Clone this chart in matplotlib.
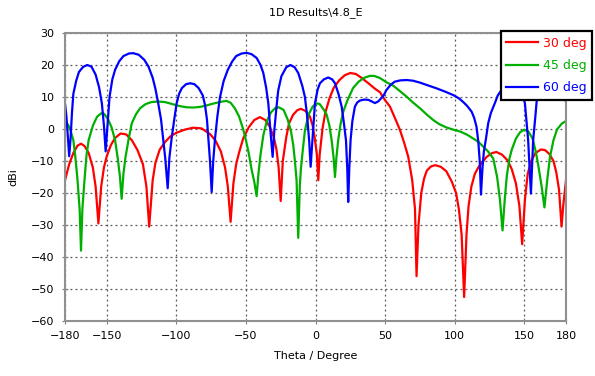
import matplotlib
matplotlib.use("Agg")
import matplotlib.pyplot as plt

# angles (deg) and gain (dBi), one list pair per curve
theta_30 = [-180, -177, -174, -171, -168.5, -166, -163, -160, -158, -156, -154, -152, -150, -147, -144,
            -140, -136, -132, -128, -124, -121.5, -119.5, -117, -115, -112, -108, -104, -100, -94, -88,
            -82, -76, -72, -68, -65, -63, -61, -59, -57, -55, -52, -48, -44, -40, -36, -33, -30, -28,
            -26.5, -25, -23.5, -21, -19, -16, -13, -10.5, -7, -4, -2, -0.5, 1, 2, 3, 5, 7, 10, 13, 17,
            21, 25, 29, 33, 38, 43, 46.3, 50, 53.5, 57, 60.7, 63.5, 66.6, 69.5, 71.5, 72.6, 74, 76, 78,
            80, 83, 86, 90, 94, 98, 101, 103, 105, 106.8, 108.5, 110, 112, 114.5, 117, 120, 123, 127,
            130, 134, 138, 141, 144, 146.5, 148.5, 150.5, 152.5, 155, 158, 162, 165, 168, 171, 173, 175,
            176.8, 178, 180]
gain_30 = [-16, -11, -7.5, -5.2, -4.6, -5.3, -7.5, -12, -18, -29.5, -18, -12, -8.5, -5, -2.8,
           -1.4, -1.7, -3.5, -6.5, -11, -18, -30.5, -16, -10.5, -6.5, -4, -2.2, -1.2, -0.2, 0.4,
           0.2, -1.5, -3.5, -7, -12, -18, -29, -17, -11, -7.5, -3, 0.5, 2.8, 3.7, 2.8, 0.8, -2.5, -6.5,
           -12, -22.5, -10, -2.5, 1.8, 4.5, 5.9, 6.3, 5.6, 3.9, 1, -3, -8, -16, -8, 0, 5, 9.5, 12.8, 15.2,
           16.8, 17.5, 17.2, 16, 14.3, 12.5, 11.5, 9, 7, 3.5, -0.3, -4, -8.6, -16, -25, -46, -30, -20, -15.5,
           -13, -11.7, -11.3, -11.8, -13.2, -16.5, -20, -25, -33, -52.5, -33, -24, -18, -14, -12, -10.3, -8.7, -7.5,
           -7.2, -8, -9.8, -12.5, -17, -24, -36, -22, -14, -10, -7.5, -6.4, -6.6, -7.8, -10, -13.5, -19,
           -30.5, -24, -16]

theta_45 = [-180, -178, -176, -174, -172.5, -171, -169.5, -168.5, -167.5, -166, -164.5, -163, -160, -157,
            -154, -152, -149, -146.5, -144, -142, -140.5, -139.3, -138, -136.5, -134, -132, -129, -126,
            -122, -118, -113, -108, -103, -98, -93, -88, -83, -78, -73, -68, -64, -61, -58, -55, -52,
            -50, -48, -46, -44, -42.3, -41, -39.5, -37.5, -35, -32, -29, -26.5, -23, -20, -17.5, -16,
            -14.8, -13.6, -12.4, -11.3, -10.5, -9, -7.6, -5, -2, 1, 3, 6, 8, 10, 11.6, 13, 14, 15, 16.3,
            18, 20, 23, 27, 31, 35, 39, 42, 46, 51, 56, 61, 65.5, 70, 75, 80, 84.6, 89, 94, 99, 104, 109,
            113, 117, 120.5, 124, 127.7, 130.5, 132.5, 134.4, 136, 137.5, 139.5, 141, 144, 147, 150, 153,
            156, 158.5, 160.5, 162.5, 164.5, 166.5, 168.5, 171, 173.5, 177, 180]
gain_45 = [2, 1.5, -0.5, -3.5, -9, -16, -25, -38, -25, -16, -8, -3.5, 1, 3.8,
           4.9, 4.8, 3, 0.5, -3.5, -9.5, -15, -21.8, -14, -8.7, -2.5, 1.8, 4.6, 6.5,
           7.8, 8.4, 8.6, 8.4, 7.8, 7.2, 6.8, 6.7, 6.9, 7.4, 8, 8.5, 8.8, 8.2, 6.5, 4, 0,
           -3.5, -7.5, -12.5, -16.5, -21, -14, -8, -2, 2.5, 5.2, 6.5, 6.8, 6, 3, -1, -5,
           -10, -16, -34, -18, -12.5, -6, -0.5, 4.5, 7, 8, 7.8, 6, 4.5, 1, -3.5, -9, -15, -9, -3.5,
           1.5, 5.5, 9, 12.8, 14.8, 16, 16.6, 16.6, 16, 14.6, 13.5, 11.7, 10.1, 8.3, 6.5, 4.5, 2.8, 1.5, 0.5, -0.2, -0.8, -1.8,
           -2.9, -4, -5.5, -7, -9.2, -15, -22, -31.7, -22, -14.5, -9, -6.5, -3, -1, -0.2, -0.8,
           -3, -7.5, -12.5, -18, -24.5, -16, -8.7, -3.5, -0.2, 1.7, 2.5]

theta_60 = [-180, -179, -178, -177, -176, -175, -174, -172, -170, -167, -164, -161, -158, -155.5, -153.5,
            -152, -150.8, -149.5, -148, -146, -144, -141, -138, -134, -131, -127, -123, -120, -117, -115,
            -113, -111, -109.4, -108, -106.2, -105, -103.4, -101.5, -99.8, -98, -96, -93, -90, -87, -84,
            -81, -79.4, -78, -77, -75.8, -74.6, -73.5, -72.2, -70.5, -68.6, -66, -63, -60, -57, -53,
            -49.5, -46, -42.3, -39.5, -37.5, -35.5, -33.9, -32.5, -30.8, -29.5, -28, -26.8, -24.5, -21,
            -18, -15, -12.4, -9.5, -7.6, -6, -4.5, -3.5, -2.3, -1.2, -0.4, 1.5, 3.2, 6, 9.2, 12, 14, 16.5,
            18.8, 20.5, 21.9, 22.8, 23.5, 24.3, 25.2, 26.5, 28.3, 30, 32, 35, 38, 40.5, 42.7, 45, 47, 49,
            51, 54, 57, 61, 65.5, 70, 75, 81, 87, 93, 99, 103, 106, 109, 112.2, 114, 115.7, 117, 118,
            118.9, 120, 121, 122.5, 124.1, 126, 128.9, 131, 133.7, 137, 141, 145, 148, 150.5, 152.8,
            154.8, 156.4, 158, 158.9, 161, 165, 170, 174, 177, 180]
gain_60 = [8, 4, -2, -8.5, -3, 5, 11, 15, 17.8, 19.4, 20, 19.5, 17, 13, 8,
           1, -7, 1, 10, 15.5, 18.5, 21.2, 22.8, 23.6, 23.7, 23.2, 21.6, 19.5, 16, 12.5,
           8, 3, -3.5, -9, -18.5, -9, -3, 3, 8, 11, 12.8, 14, 14.3, 14, 12.8,
           10.5, 7.5, 3, -3, -10, -19.7, -10, -3, 4, 10, 15, 18.5, 21, 22.8, 23.6,
           23.8, 23.4, 22.2, 20, 17.5, 13, 8, 0, -8.7, 0, 7, 12, 16.5, 19.3,
           20, 19.3, 17.5, 13.5, 10, 4, -4, -11.8, -4, 3, 8, 12.3, 14.3, 15.5, 16.1, 15.5, 14.3, 11,
           7, 1.5, -3.5, -12, -22.8, -12, -3.5, 2.5, 7, 8.3, 8.9, 9.2, 9.1, 8.6, 8.1, 8.6, 9.5, 10.5,
           12.2, 13.8, 14.8, 15.2, 15.3, 15.1, 14.5, 13.6, 12.7, 11.7, 10.6, 9.6, 8.5, 7.2, 5.4, 3.5, 0.7, -4, -10,
           -20.5, -12, -7, -3, 1.8, 5, 8.1, 10.5, 12.2, 15, 16.5, 15, 12, 8, -3.5,
           -20.2, -3.5, 4, 8.6, 13, 16, 16.5, 15, 12.5, 8.5]

labels = ["30 deg", "45 deg", "60 deg"]
colors = ["#ff0000", "#00b000", "#0000ff"]

fig = plt.figure(figsize=(5.95, 3.76), dpi=100)
ax = fig.add_axes([65 / 595, 1 - 321 / 376, 501 / 595, 288 / 376])

for th, g, lab, c in zip([theta_30, theta_45, theta_60], [gain_30, gain_45, gain_60], labels, colors):
    ax.plot(th, g, color=c, lw=1.6, label=lab)

ax.set_xlim(-180, 180)
ax.set_ylim(-60, 30)
ax.set_xticks([-180, -150, -100, -50, 0, 50, 100, 150, 180])
ax.set_yticks(range(-60, 31, 10))
ax.grid(True, color="#555555", linestyle=(0, (1.5, 2.5)), lw=0.9)
ax.tick_params(direction="inout", length=5, color="#808080", labelsize=8, pad=5)

for side in ["top", "right", "bottom", "left"]:
    ax.spines[side].set_color("#909090")
    ax.spines[side].set_linewidth(1.5)

ax.set_title("1D Results\\4.8_E", fontsize=8, pad=13)
ax.set_xlabel("Theta / Degree", fontsize=8, labelpad=7)
ax.set_ylabel("dBi", fontsize=8, labelpad=9)

leg = ax.legend(loc="upper left", bbox_to_anchor=(0.87, 1.007), fontsize=9, labelcolor="linecolor",
                handlelength=2.5, handletextpad=0.4, labelspacing=0.75, borderpad=0.45,
                borderaxespad=0, fancybox=False, framealpha=1)
leg.get_frame().set_edgecolor("black")
leg.get_frame().set_linewidth(1.6)
leg.set_zorder(5)

fig.savefig("out.png", dpi=100)
